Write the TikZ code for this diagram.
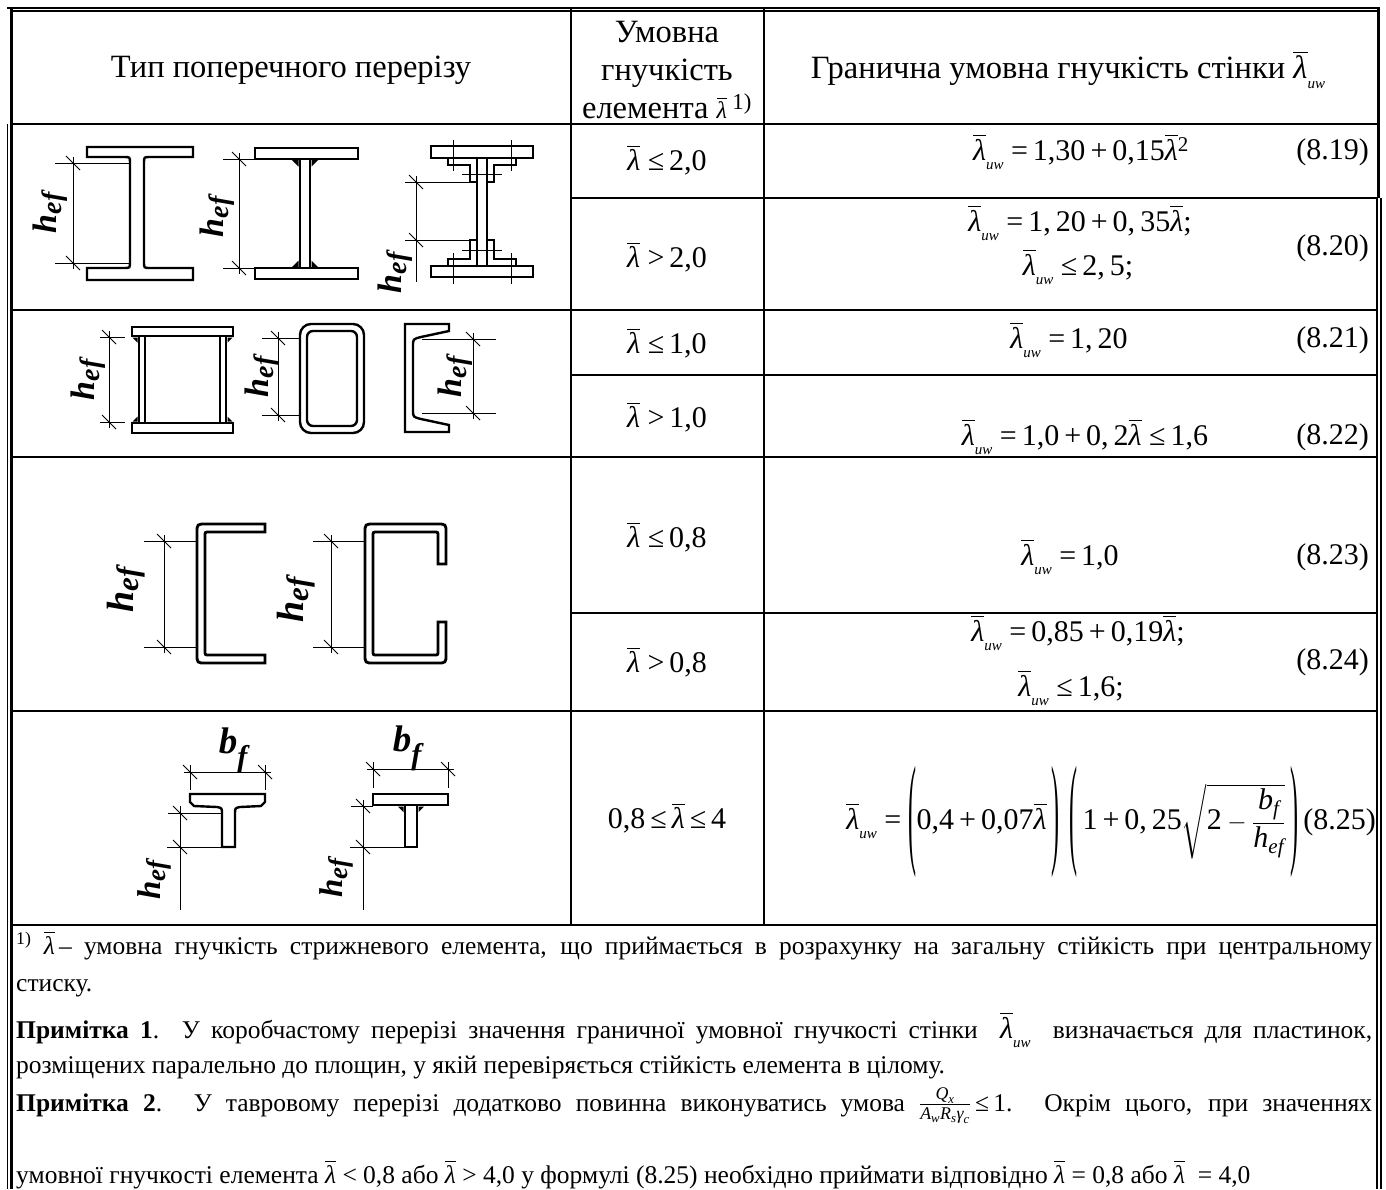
\documentclass[tikz,border=0pt]{standalone}
\usepackage{amsmath}
\usepackage{graphicx}
\usepackage{fontspec}
\setmainfont{Liberation Serif}
\newcommand\lam{\mbox{\itshape λ}}
\newcommand\lbar{\ensuremath{\overline{\lam}}}
\newcommand\luw{\lbar\raisebox{-0.3em}{\fontsize{15}{15}\selectfont\itshape uw}}
\newcommand\ti[1]{\text{\itshape #1}}
\newcommand\hef[2]{{\fontsize{#1}{#1}\selectfont\bfseries\itshape h\raisebox{-0.15em}{\fontsize{#2}{#2}\selectfont ef}}}
\newcommand\bff{{\fontsize{37}{37}\selectfont\bfseries\itshape b\raisebox{-0.35em}{\fontsize{30}{30}\selectfont f}}}
\newcommand\bp[1]{\raisebox{-22pt}{\scalebox{0.8}[4.1]{#1}}}
\newcommand\tk[1]{\draw[dimln] #1 ++(-7,-7) -- ++(14,14);}
\tikzset{
  tbl/.style={line width=2.2pt},
  prof/.style={line width=2.4pt, line join=miter},
  profb/.style={line width=2.8pt, line join=miter},
  dimln/.style={line width=0.9pt},
  txt/.style={font=\fontsize{30}{38}\selectfont, inner sep=0pt},
  hdr/.style={font=\fontsize{32.5}{38}\selectfont, inner sep=0pt},
  fn/.style={font=\fontsize{25.5}{36}\selectfont, inner sep=0pt, anchor=base west},
  lab/.style={inner sep=0pt, rotate=90},
}
\begin{document}
\begin{tikzpicture}[x=1pt,y=-1pt]
\useasboundingbox (0,0) rectangle (1386,1189);
\fill[white] (0,0) rectangle (1386,1189);
% ---------- borders ----------
\draw[line width=2pt] (7,8) -- (1380,8);
\draw[line width=1.2pt] (11,11) -- (1377,11);
\draw[line width=2.4pt] (11.5,8) -- (11.5,1189);
\draw[line width=1.3pt] (7.5,124) -- (7.5,1189);
\draw[line width=3pt] (1378.5,8) -- (1378.5,198);
\draw[line width=1.8pt] (1377,198) -- (1377,1189);
\draw[line width=1.3pt] (1381,198) -- (1381,1189);
% ---------- grid ----------
\draw[tbl] (571,8) -- (571,925);
\draw[tbl] (764,8) -- (764,925);
\draw[line width=1.3pt] (11,124) -- (571,124);
\draw[tbl] (571,124) -- (1378,124);
\draw[tbl] (571,198) -- (1378,198);
\draw[tbl] (11,310) -- (1378,310);
\draw[tbl] (571,375) -- (1378,375);
\draw[tbl] (11,457) -- (1378,457);
\draw[tbl] (571,613) -- (1378,613);
\draw[tbl] (11,711) -- (1378,711);
\draw[tbl] (11,925) -- (1378,925);
% ---------- header ----------
\node[hdr] (hd1) at (291,70) {Тип поперечного перерізу};
\node[hdr, align=center] (hd2) at (667,70) {Умовна\\гнучкість\\елемента {\fontsize{24}{24}\selectfont\lbar}\,\textsuperscript{1)}};
\node[hdr] (hd3) at (1068,70) {Гранична умовна гнучкість стінки \luw};
% ---------- row 1 : I-beams ----------
\draw[prof] (87,147) -- (193,147) -- (193,157) -- (150,157) .. controls (144,157) .. (144,163) -- (144,262) .. controls (144,268) .. (150,268) -- (193,268) -- (193,280) -- (87,280) -- (87,268) -- (124,268) .. controls (130,268) .. (130,262) -- (130,163) .. controls (130,157) .. (124,157) -- (87,157) -- cycle;
\draw[dimln] (55,163) -- (130,163) (55,263) -- (130,263) (73,157) -- (73,269);
\tk{(73,163)} \tk{(73,263)}
\node[lab] (h1) at (50,213) {\hef{34}{28}};
% beam 2
\draw[prof] (255,148) rectangle (358,159);
\draw[prof] (255,268) rectangle (358,279);
\draw[prof] (300,159) -- (300,268) (310,159) -- (310,268);
\fill (298.5,160) -- (292,160) -- (298.5,166.5) -- cycle;
\fill (311.5,160) -- (318,160) -- (311.5,166.5) -- cycle;
\fill (298.5,267) -- (292,267) -- (298.5,260.5) -- cycle;
\fill (311.5,267) -- (318,267) -- (311.5,260.5) -- cycle;
\draw[dimln] (223,159) -- (255,159) (223,268) -- (255,268) (239,153) -- (239,274);
\tk{(239,159)} \tk{(239,268)}
\node[lab] (h2) at (217,217) {\hef{34}{28}};
% beam 3 (riveted)
\draw[prof] (431,146) rectangle (533,158);
\draw[prof] (431,266) rectangle (533,277);
\draw[prof] (477,158) -- (477,266) (487,158) -- (487,266);
\draw[line width=2pt] (448,158) -- (448,165) -- (470,165) -- (470,182) -- (477,182);
\draw[line width=2pt] (516,158) -- (516,165) -- (494,165) -- (494,182) -- (487,182);
\draw[line width=2pt] (448,266) -- (448,259) -- (470,259) -- (470,240) -- (477,240);
\draw[line width=2pt] (516,266) -- (516,259) -- (494,259) -- (494,240) -- (487,240);
\draw[dimln] (453,140) -- (453,171) (511,140) -- (511,171) (462,174) -- (502,174);
\draw[dimln] (453,253) -- (453,284) (511,253) -- (511,284) (462,250) -- (502,250);
\draw[dimln] (405,182) -- (470,182) (405,240) -- (470,240) (416,176) -- (416,282);
\tk{(416,182)} \tk{(416,240)}
\node[lab] (h3) at (395,273) {\hef{34}{28}};
% ---------- row 2 ----------
\draw[prof] (132,327) rectangle (233,336);
\draw[prof] (132,423) rectangle (233,433);
\draw[prof] (139,336) -- (139,423) (145,336) -- (145,423) (220,336) -- (220,423) (226,336) -- (226,423);
\fill (137.5,337.5) -- (132.5,337.5) -- (137.5,342.5) -- cycle;
\fill (227.5,337.5) -- (232.5,337.5) -- (227.5,342.5) -- cycle;
\fill (137.5,421.5) -- (132.5,421.5) -- (137.5,416.5) -- cycle;
\fill (227.5,421.5) -- (232.5,421.5) -- (227.5,416.5) -- cycle;
\draw[dimln] (100,337) -- (125,337) (100,422) -- (125,422) (109,331) -- (109,428);
\tk{(109,337)} \tk{(109,422)}
\node[lab] (h4) at (88,380) {\hef{34}{28}};
% tube
\draw[prof, rounded corners=11pt] (300,324) rectangle (364,433);
\draw[prof, rounded corners=6pt] (307,331) rectangle (357,426);
\draw[dimln] (262,338) -- (300,338) (262,415) -- (300,415) (278,332) -- (278,421);
\tk{(278,338)} \tk{(278,415)}
\node[lab] (h5) at (262,377) {\hef{34}{28}};
% rolled channel
\draw[prof] (405,324) -- (449,324) -- (449,331) -- (421,337) .. controls (413,339) .. (413,346) -- (413,410) .. controls (413,417) .. (421,419) -- (449,425) -- (449,432) -- (405,432) -- cycle;
\draw[dimln] (422,339) -- (496,339) (422,413) -- (496,413) (473,333) -- (473,419);
\tk{(473,339)} \tk{(473,413)}
\node[lab] (h6) at (455,377) {\hef{34}{28}};
% ---------- row 3 ----------
\draw[profb] (265,524) -- (206,524) .. controls (197,524) .. (197,533) -- (197,654) .. controls (197,663) .. (206,663) -- (265,663) -- (265,655) -- (209,655) .. controls (205,655) .. (205,651) -- (205,536) .. controls (205,532) .. (209,532) -- (265,532) -- cycle;
\draw[dimln] (144,541) -- (196,541) (144,647) -- (196,647) (164,535) -- (164,653);
\tk{(164,541)} \tk{(164,647)}
\node[lab] (h7) at (126,590) {\hef{38}{31}};
\draw[profb] (446,564) -- (446,533) .. controls (446,524) .. (437,524) -- (374,524) .. controls (365,524) .. (365,533) -- (365,654) .. controls (365,663) .. (374,663) -- (437,663) .. controls (446,663) .. (446,654) -- (446,622) -- (438,622) -- (438,651) .. controls (438,655) .. (434,655) -- (377,655) .. controls (373,655) .. (373,651) -- (373,536) .. controls (373,532) .. (377,532) -- (434,532) .. controls (438,532) .. (438,536) -- (438,564) -- cycle;
\draw[dimln] (313,541) -- (364,541) (313,647) -- (364,647) (331,535) -- (331,653);
\tk{(331,541)} \tk{(331,647)}
\node[lab] (h8) at (296,600) {\hef{38}{31}};
% ---------- row 4 : T sections ----------
\draw[prof] (190,794) -- (265,794) -- (265,802) -- (261,806) -- (240,807) .. controls (235,808) .. (235,814) -- (235,847) -- (222,847) -- (222,814) .. controls (222,808) .. (217,807) -- (194,806) -- (190,802) -- cycle;
\draw[dimln] (190,765) -- (190,790) (265,765) -- (265,790) (184,772) -- (271,772);
\tk{(190,772)} \tk{(265,772)}
\node[inner sep=0pt] (b1) at (233,750) {\bff};
\draw[dimln] (168,813) -- (222,813) (167,847) -- (222,847) (180,806) -- (180,910);
\tk{(180,813)} \tk{(180,847)}
\node[lab] (h9) at (154,880) {\hef{33}{27}};
\draw[prof] (373,794) rectangle (448,805);
\draw[prof] (405,805) -- (405,847) -- (417,847) -- (417,805);
\fill (403.5,806.5) -- (398,806.5) -- (403.5,812) -- cycle;
\fill (418.5,806.5) -- (424,806.5) -- (418.5,812) -- cycle;
\draw[dimln] (373,762) -- (373,788) (448,762) -- (448,788) (367,769) -- (454,769);
\tk{(373,769)} \tk{(448,769)}
\node[inner sep=0pt] (b2) at (407,748) {\bff};
\draw[dimln] (351,806) -- (373,806) (350,847) -- (405,847) (363,800) -- (363,910);
\tk{(363,806)} \tk{(363,847)}
\node[lab] (h10) at (336,878) {\hef{33}{27}};
% ---------- column 2 ----------
\node[txt] (c1) at (667,160) {\lbar\ ≤\,2,0};
\node[txt] (c2) at (667,257) {\lbar\ >\,2,0};
\node[txt] (c3) at (667,343) {\lbar\ ≤\,1,0};
\node[txt] (c4) at (667,417) {\lbar\ >\,1,0};
\node[txt] (c5) at (667,537) {\lbar\ ≤\,0,8};
\node[txt] (c6) at (667,662) {\lbar\ >\,0,8};
\node[txt] (c7) at (667,818) {0,8\,≤\,\lbar\,≤\,4};
% ---------- column 3 ----------
\node[txt] (f19) at (1081,152) {\luw\ =\,1,30\,+\,0,15\lbar\textsuperscript{2}};
\node[txt] (f20a) at (1080,223) {\luw\ =\,1,\,20\,+\,0,\,35\lbar;};
\node[txt] (f20b) at (1078,267) {\luw\ ≤\,2,\,5;};
\node[txt] (f21) at (1069,340) {\luw\ =\,1,\,20};
\node[txt] (f22) at (1085,437) {\luw\ =\,1,0\,+\,0,\,2\lbar\ ≤\,1,6};
\node[txt] (f23) at (1070,557) {\luw\ =\,1,0};
\node[txt] (f24a) at (1078,633) {\luw\ =\,0,85\,+\,0,19\lbar;};
\node[txt] (f24b) at (1071,688) {\luw\ ≤\,1,6;};
\node[txt, anchor=east] (n19) at (1369,152) {(8.19)};
\node[txt, anchor=east] (n20) at (1369,248) {(8.20)};
\node[txt, anchor=east] (n21) at (1369,340) {(8.21)};
\node[txt, anchor=east] (n22) at (1369,437) {(8.22)};
\node[txt, anchor=east] (n23) at (1369,557) {(8.23)};
\node[txt, anchor=east] (n24) at (1369,662) {(8.24)};
\node[txt, anchor=east] (f25) at (1376,822) {\luw\ =\ \bp{(}0,4\,+\,0,07\lbar\,\bp{)}\hspace{10pt}\bp{(}\hspace{5pt}1\,+\,0,\,25$\sqrt{\text{2} - \dfrac{\ti{b}_{\ti{f}}}{\ti{h}_{\ti{ef}}}}$\hspace{5pt}\bp{)}\,(8.25)};
% ---------- footnotes ----------
\node[fn] (t1) at (16,954) {\makebox[1356pt][s]{\textsuperscript{1)}\ \lbar\,– умовна гнучкість стрижневого елемента, що приймається в розрахунку на загальну стійкість при центральному}};
\node[fn] (t2) at (16,991) {стиску.};
\node[fn] (t3) at (16,1038) {\makebox[1356pt][s]{\textbf{Примітка 1}. У коробчастому перерізі значення граничної умовної гнучкості стінки \ {\fontsize{30}{30}\selectfont\luw}\ \ визначається для пластинок,}};
\node[fn] (t4) at (16,1073) {розміщених паралельно до площин, у якій перевіряється стійкість елемента в цілому.};
\node[fn] (t5) at (16,1111) {\makebox[1356pt][s]{\textbf{Примітка 2}. У тавровому перерізі додатково повинна виконуватись умова $\frac{\ti{Q}_{\ti{x}}}{\ti{A}_{\ti{w}}\ti{R}_{\ti{s}}\ti{γ}_{\ti{c}}}$\,≤\,1. Окрім цього, при значеннях}};
\node[fn] (t6) at (16,1183) {умовної гнучкості елемента \lbar\ < 0,8 або \lbar\ > 4,0 у формулі (8.25) необхідно приймати відповідно \lbar\ = 0,8 або \lbar\ \ = 4,0};
\end{tikzpicture}
\end{document}
